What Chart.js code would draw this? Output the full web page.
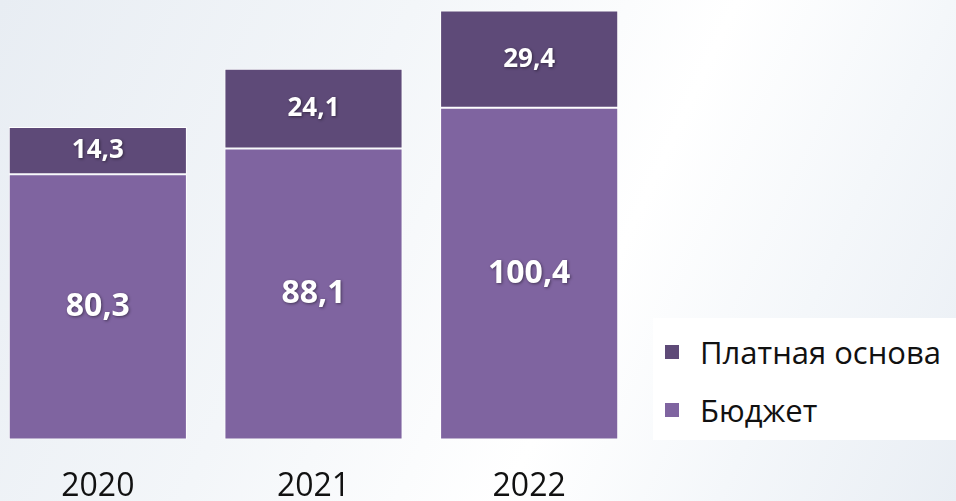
<!DOCTYPE html>
<html lang="ru">
<head>
<meta charset="UTF-8">
<title>Бюджет и платная основа</title>
<script src="https://cdn.jsdelivr.net/npm/chart.js@4.4.0/dist/chart.umd.min.js"></script>
<style>
  html, body { margin: 0; padding: 0; }
  body {
    width: 956px; height: 501px; overflow: hidden; position: relative;
    background: linear-gradient(115deg, #e8edf3 0%, #f3f6f9 35%, #ffffff 62%, #f4f7fa 80%, #e9eef4 100%);
    font-family: "Open Sans", "Noto Sans", sans-serif;
  }
  #wrap { position: absolute; left: -10px; top: 0; width: 647px; height: 526px; }
  #legend {
    position: absolute; left: 653px; top: 318px; width: 303px; height: 122px;
    background: #ffffff;
  }
  .item { position: absolute; left: 12px; display: flex; align-items: center; font-size: 31px; color: #111; line-height: 40px; }
  .item span.box { width: 14px; height: 14px; margin-right: 21px; display: inline-block; }
</style>
</head>
<body>
<div id="wrap"><canvas id="chart"></canvas></div>
<div id="legend"></div>

<script>
// данные
var years = ['2020', '2021', '2022'];
var budget = [80.3, 88.1, 100.4];
var paid = [14.3, 24.1, 29.4];

var colBudget = '#7f64a0';
var colPaid = '#5e4a78';

// подписи значений в центре сегментов
var valueLabels = {
  id: 'valueLabels',
  afterDatasetsDraw: function (chart) {
    var ctx = chart.ctx;
    chart.data.datasets.forEach(function (ds, i) {
      var meta = chart.getDatasetMeta(i);
      meta.data.forEach(function (bar, j) {
        var p = bar.getProps(['x', 'y', 'base'], true);
        ctx.save();
        ctx.font = 'bold ' + ds.labelSize + 'px "Open Sans"';
        ctx.fillStyle = '#ffffff';
        ctx.textAlign = 'center';
        ctx.textBaseline = 'middle';
        ctx.shadowColor = 'rgba(0,0,0,0.45)';
        ctx.shadowBlur = 3;
        ctx.shadowOffsetX = 1;
        ctx.shadowOffsetY = 1;
        ctx.fillText(ds.data[j].toFixed(1).replace('.', ','), p.x, (p.y + p.base) / 2);
        ctx.restore();
      });
    });
  }
};

var chart = new Chart(document.getElementById('chart'), {
  type: 'bar',
  data: {
    labels: years,
    datasets: [
      { label: 'Бюджет', data: budget, backgroundColor: colBudget, labelSize: 32 },
      { label: 'Платная основа', data: paid, backgroundColor: colPaid, labelSize: 26 }
    ]
  },
  options: {
    responsive: true,
    maintainAspectRatio: false,
    animation: false,
    layout: { padding: 0 },
    datasets: {
      bar: {
        categoryPercentage: 1,
        barPercentage: 0.826,
        borderColor: '#ffffff',
        borderWidth: 1,
        borderSkipped: false
      }
    },
    scales: {
      x: {
        stacked: true,
        grid: { display: false },
        border: { display: false },
        ticks: { color: '#111', padding: 20, font: { family: 'Open Sans', size: 32 } }
      },
      y: {
        stacked: true,
        display: false,
        min: 0,
        max: 133
      }
    },
    plugins: {
      legend: { display: false },
      tooltip: { enabled: false }
    }
  },
  plugins: [valueLabels]
});

// легенда
var legend = document.getElementById('legend');
[['Платная основа', colPaid, 14], ['Бюджет', colBudget, 72]].forEach(function (it) {
  var d = document.createElement('div');
  d.className = 'item';
  d.style.top = it[2] + 'px';
  d.innerHTML = '<span class="box" style="background:' + it[1] + '"></span>' + it[0];
  legend.appendChild(d);
});
</script>
</body>
</html>
